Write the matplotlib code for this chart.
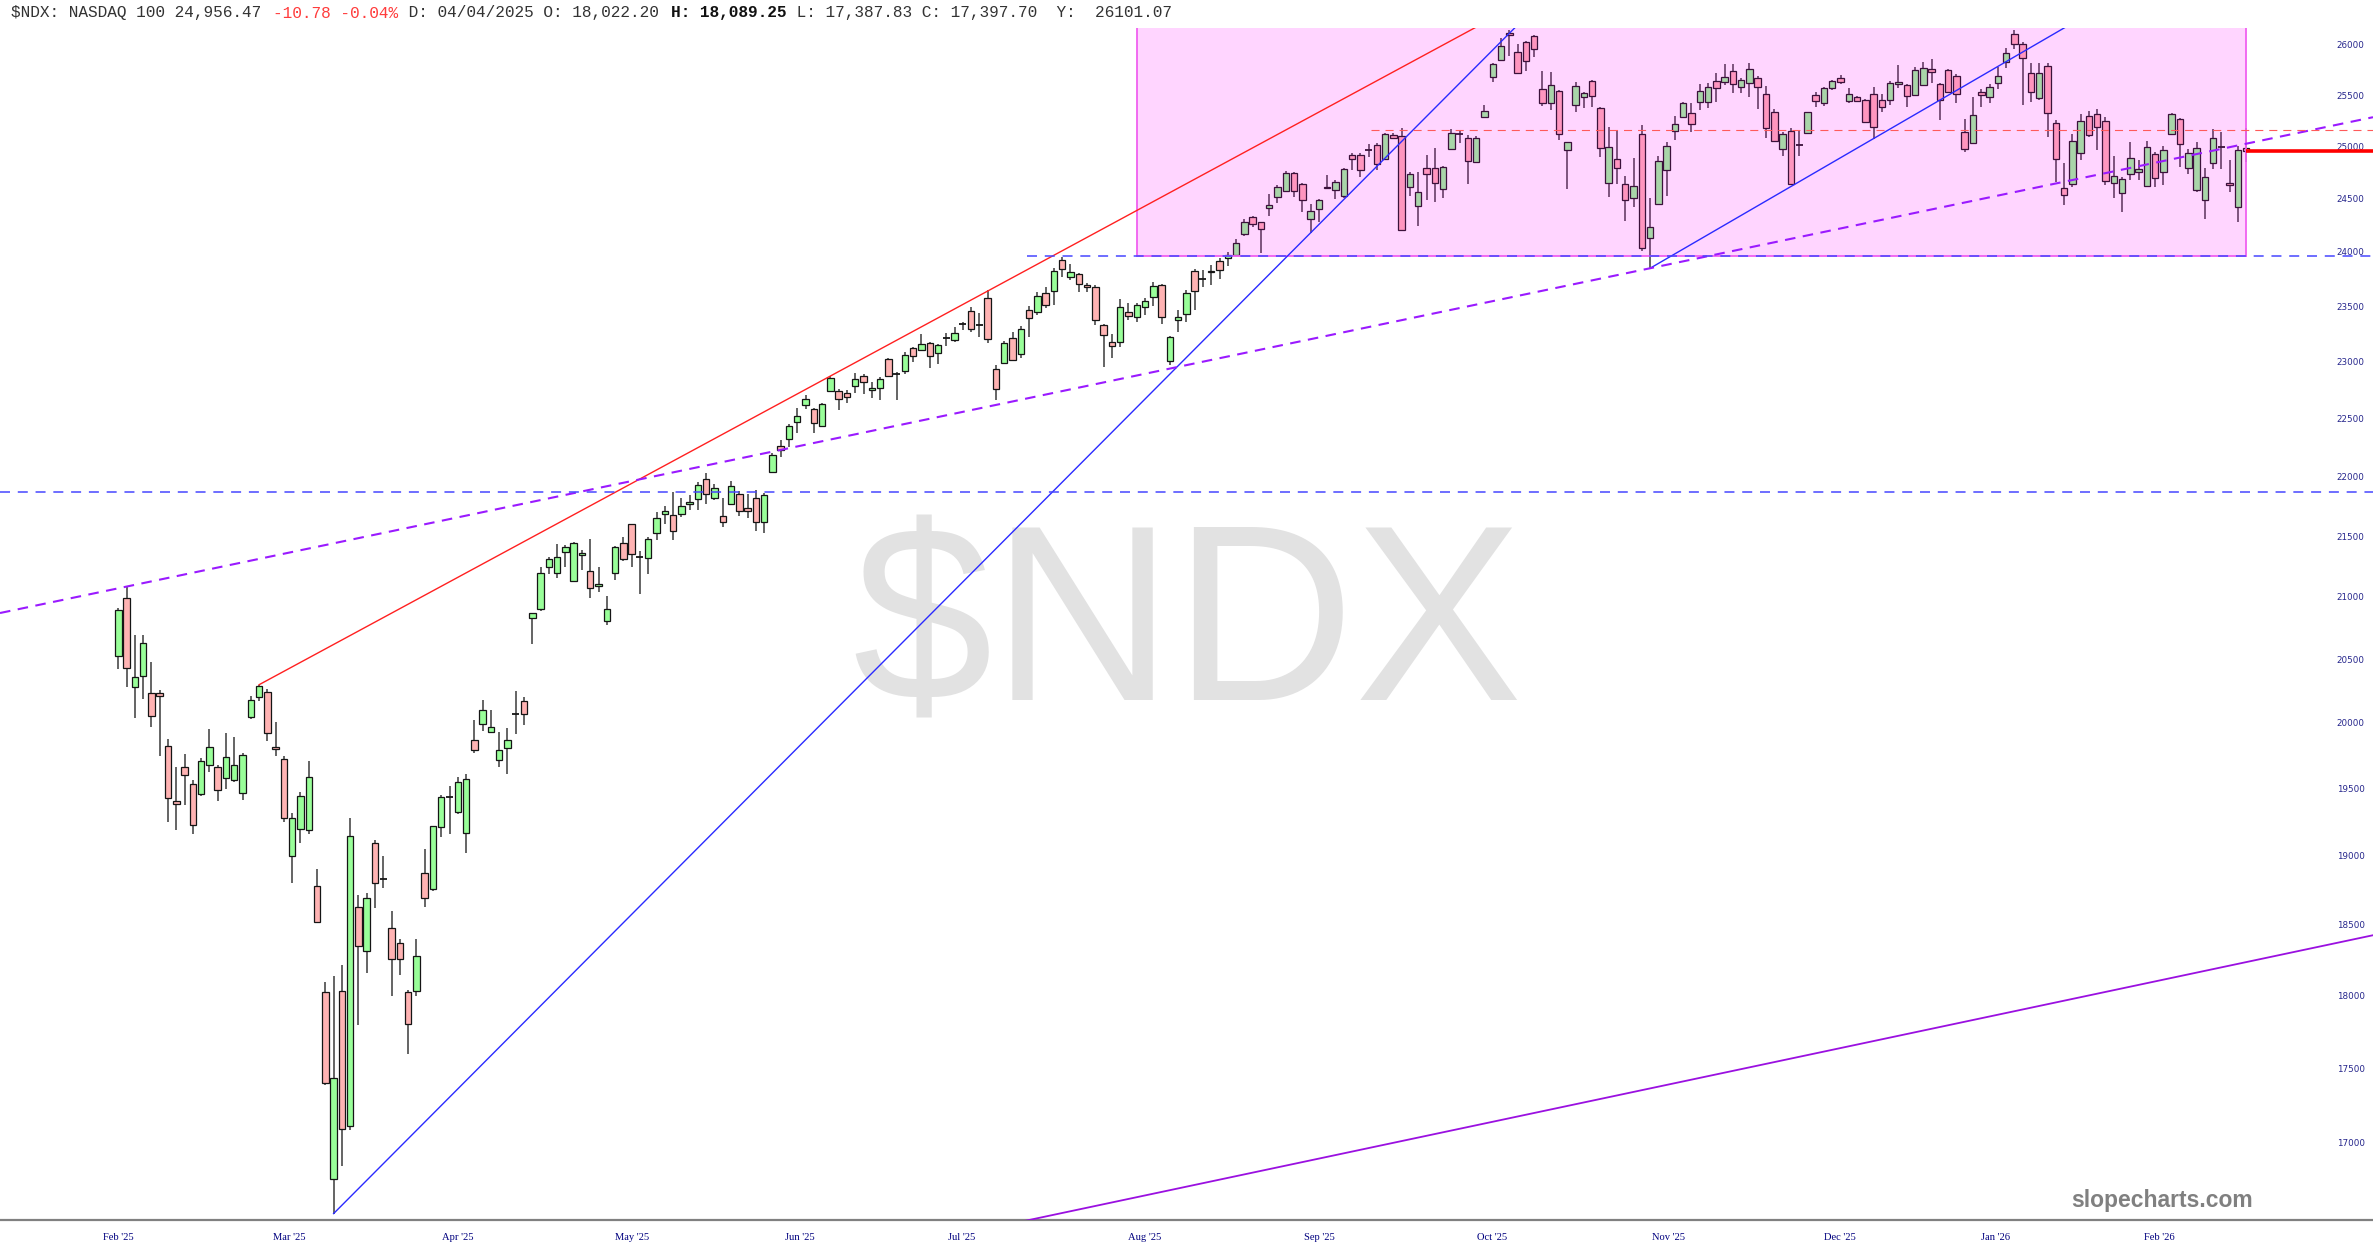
import numpy as np
import matplotlib
matplotlib.use("Agg")
import matplotlib.pyplot as plt
from matplotlib.patches import Rectangle
from matplotlib.ticker import NullLocator

# ---------------- data (daily candles, $NDX, 28 Feb 2025 onward) ----------------
opens = [
    20524, 20993, 20284, 20367, 20235, 20235, 19825, 19408, 19664, 19535,
    19455, 19674, 19664, 19577, 19561, 19468, 20043, 20201, 20241, 19815,
    19722, 19000, 19194, 19187, 18775, 18022.20, 16767, 18032, 17115, 18625,
    18311, 19093, 18830, 18473, 18367, 18022, 18032, 18871, 18753, 19209,
    19433, 19319, 19169, 19867, 19994, 19932, 19712, 19809, 20069, 20168,
    20829, 20900, 21246, 21198, 21366, 21128, 21340, 21209, 21086, 20801,
    21193, 21440, 21600, 21328, 21320, 21523, 21682, 21679, 21682, 21765,
    21808, 21983, 21820, 21665, 21771, 21851, 21736, 21822, 21618, 22040,
    22265, 22320, 22473, 22618, 22580, 22438, 22741, 22741, 22720, 22787,
    22876, 22750, 22765, 23022, 22890, 22917, 23118, 23109, 23168, 23082,
    23214, 23195, 23336, 23459, 23332, 23578, 22934, 22990, 23216, 23070,
    23465, 23444, 23617, 23639, 23924, 23765, 23796, 23695, 23672, 23330,
    23172, 23175, 23448, 23403, 23488, 23587, 23693, 23010, 23375, 23427,
    23823, 23747, 23811, 23918, 23945, 23970, 24163, 24329, 24273, 24408,
    24512, 24572, 24740, 24635, 24304, 24399, 24613, 24581, 24524, 24916,
    24916, 24961, 25012, 24874, 25110, 25100, 24613, 24430, 24788, 24794,
    24588, 24970, 25126, 25077, 24852, 25289, 25683, 25848, 26124, 25932,
    26033, 26093, 25561, 25419, 25544, 24964, 25403, 25485, 25643, 25370,
    24645, 24874, 24635, 24502, 25117, 24125, 24449, 24772, 25152, 25289,
    25321, 25436, 25429, 25640, 25633, 25739, 25577, 25616, 25666, 25512,
    25331, 24974, 25149, 25009, 25133, 25502, 25426, 25567, 25673, 25442,
    25485, 25452, 25512, 25452, 25452, 25607, 25600, 25502, 25600, 25759,
    25607, 25749, 25693, 25136, 25028, 25528, 25485, 25616, 25832, 26107,
    26009, 25723, 25475, 25792, 25223, 24597, 24639, 24938, 25295, 25315,
    25246, 24645, 24550, 24731, 24756, 24622, 24922, 24750, 25120, 25262,
    24794, 24581, 24486, 24836, 24993, 24651, 24418, 24987,
]
highs = [
    20907, 21078, 20690, 20690, 20477, 20258, 19874, 19664, 19760, 19561,
    19728, 19950, 19680, 19924, 19890, 19770, 20208, 20298, 20268, 20004,
    19744, 19313, 19472, 19706, 18901, 18089.25, 18137, 18210, 19276, 18714,
    18729, 19115, 19000, 18595, 18395, 18037, 18395, 19048, 19222, 19447,
    19520, 19586, 19608, 20020, 20178, 20098, 19929, 19961, 20250, 20201,
    20870, 21240, 21326, 21434, 21426, 21452, 21383, 21475, 21246, 21010,
    21417, 21492, 21603, 21374, 21489, 21699, 21748, 21872, 21820, 21843,
    21950, 22027, 21936, 21822, 21965, 21878, 21851, 21886, 21863, 22202,
    22314, 22452, 22589, 22706, 22589, 22633, 22873, 22756, 22750, 22896,
    22890, 22820, 22867, 23034, 22911, 23088, 23132, 23248, 23177, 23156,
    23254, 23307, 23358, 23496, 23434, 23650, 22970, 23186, 23266, 23316,
    23500, 23632, 23678, 23847, 23948, 23887, 23802, 23710, 23693, 23339,
    23250, 23564, 23530, 23525, 23570, 23721, 23702, 23232, 23461, 23647,
    23836, 23832, 23878, 23940, 24001, 24119, 24307, 24336, 24279, 24544,
    24629, 24766, 24756, 24645, 24449, 24496, 24724, 24676, 24788, 24938,
    24938, 25022, 25028, 25126, 25126, 25175, 24756, 24750, 24916, 24980,
    24813, 25165, 25158, 25110, 25103, 25403, 25822, 26066, 26151, 26009,
    26040, 26100, 25739, 25726, 25551, 25045, 25633, 25534, 25649, 25380,
    25185, 25149, 24715, 24890, 25207, 24502, 24906, 25045, 25295, 25429,
    25426, 25610, 25623, 25716, 25805, 25809, 25666, 25815, 25689, 25594,
    25360, 25142, 25175, 25149, 25338, 25534, 25584, 25649, 25699, 25574,
    25492, 25459, 25584, 25512, 25640, 25799, 25610, 25775, 25832, 25855,
    25616, 25755, 25709, 25266, 25478, 25561, 25607, 25775, 25966, 26151,
    26033, 25815, 25815, 25815, 25256, 24842, 25117, 25315, 25347, 25360,
    25289, 24906, 24702, 25038, 24868, 25055, 24948, 25003, 25321, 25279,
    24970, 25038, 24794, 25168, 25139, 24868, 25003, 25175,
]
lows = [
    20418, 20284, 20037, 20185, 19972, 19744, 19250, 19187, 19377, 19156,
    19440, 19625, 19403, 19496, 19551, 19414, 20030, 20168, 19858, 19744,
    19250, 18799, 19093, 19162, 18509, 17387.83, 16542, 16849, 17085, 17797,
    18156, 18616, 18760, 17997, 18144, 17595, 17997, 18625, 18744, 19134,
    19162, 19306, 19016, 19767, 19939, 19922, 19664, 19606, 19916, 19988,
    20619, 20885, 21190, 21156, 21240, 21123, 21218, 20994, 21036, 20771,
    21134, 21292, 21246, 21022, 21190, 21463, 21597, 21463, 21656, 21714,
    21714, 21765, 21799, 21577, 21757, 21670, 21647, 21546, 21526, 22034,
    22165, 22256, 22372, 22580, 22378, 22435, 22735, 22574, 22639, 22720,
    22711, 22682, 22665, 22867, 22662, 22890, 22999, 23103, 22940, 22984,
    23141, 23180, 23284, 23270, 23218, 23170, 22662, 22978, 23005, 23031,
    23220, 23420, 23480, 23511, 23771, 23741, 23632, 23626, 23330, 22951,
    23031, 23130, 23375, 23360, 23418, 23503, 23339, 22970, 23270, 23360,
    23461, 23678, 23690, 23750, 23868, 23961, 24147, 24229, 23986, 24336,
    24455, 24565, 24518, 24370, 24173, 24282, 24591, 24493, 24502, 24772,
    24702, 24900, 24772, 24868, 25071, 24198, 24524, 24241, 24486, 24470,
    24502, 24964, 25028, 24635, 24842, 25272, 25633, 25842, 25889, 25710,
    25743, 25875, 25396, 25354, 25061, 24588, 25338, 25370, 25380, 24893,
    24518, 24639, 24283, 24415, 24008, 23847, 24439, 24527, 25061, 25283,
    25142, 25354, 25370, 25436, 25600, 25518, 25518, 25485, 25360, 25084,
    25045, 24910, 24629, 24906, 25120, 25383, 25393, 25551, 25610, 25426,
    25436, 25223, 25071, 25338, 25403, 25574, 25383, 25492, 25590, 25623,
    25256, 25518, 25426, 24942, 25022, 25383, 25419, 25561, 25772, 25955,
    25403, 25436, 25452, 25094, 24661, 24439, 24607, 24868, 25094, 24964,
    24629, 24502, 24370, 24677, 24677, 24613, 24607, 24629, 25110, 24804,
    24734, 24565, 24304, 24778, 24778, 24565, 24276, 24852,
]
closes = [
    20890, 20427, 20357, 20632, 20053, 20211, 19430, 19383, 19599, 19228,
    19706, 19813, 19487, 19735, 19677, 19757, 20182, 20291, 19923, 19799,
    19281, 19281, 19440, 19583, 18521, 17397.70, 17430, 17092, 19146, 18344,
    18692, 18800, 18825, 18254, 18254, 17804, 18278, 18692, 19219, 19433,
    19440, 19545, 19570, 19793, 20102, 19968, 19793, 19867, 20072, 20069,
    20870, 21195, 21309, 21323, 21411, 21440, 21360, 21072, 21106, 20904,
    21405, 21306, 21355, 21330, 21477, 21650, 21711, 21540, 21751, 21785,
    21930, 21851, 21901, 21621, 21924, 21708, 21708, 21618, 21848, 22181,
    22228, 22435, 22522, 22668, 22464, 22627, 22852, 22673, 22691, 22849,
    22820, 22765, 22843, 22873, 22884, 23064, 23049, 23162, 23049, 23147,
    23216, 23257, 23340, 23294, 23330, 23200, 22755, 23168, 23019, 23296,
    23390, 23596, 23511, 23825, 23838, 23817, 23704, 23678, 23375, 23241,
    23136, 23488, 23409, 23510, 23549, 23687, 23400, 23220, 23400, 23623,
    23638, 23750, 23826, 23832, 23970, 24078, 24282, 24260, 24210, 24440,
    24613, 24747, 24572, 24486, 24383, 24486, 24597, 24660, 24782, 24874,
    24772, 24964, 24826, 25120, 25077, 24204, 24734, 24565, 24734, 24645,
    24804, 25126, 25120, 24861, 25077, 25344, 25805, 25992, 26100, 25716,
    25842, 25955, 25419, 25600, 25117, 25038, 25594, 25518, 25495, 24980,
    24990, 24788, 24486, 24622, 24038, 24226, 24858, 25003, 25217, 25419,
    25217, 25541, 25584, 25567, 25676, 25610, 25649, 25755, 25577, 25181,
    25052, 25117, 24635, 25006, 25331, 25442, 25567, 25640, 25626, 25508,
    25446, 25233, 25191, 25380, 25623, 25633, 25492, 25749, 25766, 25726,
    25452, 25528, 25512, 24974, 25305, 25502, 25584, 25693, 25922, 26006,
    25865, 25534, 25723, 25321, 24874, 24534, 25055, 25249, 25110, 25185,
    24670, 24718, 24683, 24884, 24782, 24996, 24692, 24964, 25311, 25022,
    24938, 24980, 24702, 25077, 25000, 24629, 24967.25, 24956.47,
]

month_labels = ["Feb '25", "Mar '25", "Apr '25", "May '25", "Jun '25", "Jul '25",
                "Aug '25", "Sep '25", "Oct '25", "Nov '25", "Dec '25", "Jan '26", "Feb '26"]
month_pos = [1.04, 21.6, 41.97, 63.04, 83.33, 102.9, 124.95, 146.0, 166.9, 188.2,
             208.9, 227.7, 247.5]          # candle-index position of each label
y_ticks = list(range(17000, 26001, 500))

# drawn studies: anchor points as (candle index, price)
red_trend = [(18, 20298), (87, 22873)]
blue_trend_1 = [(27, 16542), (152.77, 24788)]
blue_trend_2 = [(186, 23847), (228.3, 25798)]
purple_dash_trend = [(-13.29, 20869), (186, 23847)]
purple_solid_trend = [(111.0, 16501), (273.31, 18423)]
support_low = 21870
support_high = 23960
support_high_start = 110.7
resist_level = 25160
resist_start = 152.3
box_start, box_end, box_floor = 124, 258, 23960
detail_candle = 26                       # 04/04/2025 shown in the header
detail_date = "04/04/2025"
cursor_y = 26101.07

# ---------------- figure ----------------
W, H, DPI = 2373, 1260, 100
plt.rcParams['lines.scale_dashes'] = False
fig = plt.figure(figsize=(W / DPI, H / DPI), dpi=DPI)
fig.patch.set_facecolor('white')
ax_bot_px, ax_top_px = 1220, 28
ax = fig.add_axes([0, (H - ax_bot_px) / H, 1, (ax_bot_px - ax_top_px) / H])
ax.set_facecolor('white')

o = np.array(opens, float)
h = np.array(highs, float)
l = np.array(lows, float)
c = np.array(closes, float)
n = len(c)
idx = np.arange(1, n + 1)
h = np.maximum(h, np.maximum(o, c))
l = np.minimum(l, np.minimum(o, c))

x_left, x_right = -13.29, 273.31
y_bot, y_top = 16501, 26170
ax.set_yscale('log')
ax.set_xlim(x_left, x_right)
ax.set_ylim(y_bot, y_top)

# watermark
ax.text(0.5006, (ax_bot_px - 700.5) / (ax_bot_px - ax_top_px), "$NDX", transform=ax.transAxes,
        ha='center', va='baseline', fontsize=181, color='#e2e2e2',
        family=['Liberation Sans', 'DejaVu Sans'], zorder=0.5, parse_math=False)

# candles
body_lo = np.minimum(o, c)
body_hi = np.maximum(o, c)
doji = (body_hi - body_lo) / body_lo < 0.0004
up = c >= o
ax.vlines(idx, l, h, color='#3a3a3a', lw=1.1, zorder=2)
nd = ~doji
cols = np.where(up, '#99ff99', '#ffb3b3')
ax.bar(idx[nd], (body_hi - body_lo)[nd], bottom=body_lo[nd], width=0.78,
       color=cols[nd], edgecolor='#151515', linewidth=0.9, zorder=2.5)
ax.hlines((o[doji] + c[doji]) / 2, idx[doji] - 0.42, idx[doji] + 0.42,
          color='#151515', lw=1.3, zorder=2.6)

# pink zone (translucent overlay)
ax.add_patch(Rectangle((box_start, box_floor), box_end - box_start, 40000 - box_floor,
                       facecolor='#ff00ff', alpha=0.165, edgecolor='none', zorder=3))
edge_kw = dict(color='#f060f0', lw=1.3, zorder=3.5)
ax.plot([box_start, box_start], [box_floor, 40000], **edge_kw)
ax.plot([box_end, box_end], [box_floor, 40000], **edge_kw)
ax.plot([box_start, box_end], [box_floor, box_floor], **edge_kw)


def log_line(p1, p2, x0, x1):
    (xa, ya), (xb, yb) = p1, p2
    k = (np.log(yb) - np.log(ya)) / (xb - xa)
    xs = np.array([x0, x1], float)
    return xs, np.exp(np.log(ya) + k * (xs - xa))


xs, ys = log_line(*red_trend, red_trend[0][0], 200)
ax.plot(xs, ys, color='#ff2020', lw=1.0, zorder=4)
xs, ys = log_line(*blue_trend_1, blue_trend_1[0][0], 200)
ax.plot(xs, ys, color='#2a2aff', lw=1.0, zorder=4)
xs, ys = log_line(*blue_trend_2, blue_trend_2[0][0], 262)
ax.plot(xs, ys, color='#2a2aff', lw=1.0, zorder=4)
xs, ys = log_line(*purple_dash_trend, x_left, x_right)
ax.plot(xs, ys, color='#9a1aff', lw=1.5, dashes=(7.6, 5.4), zorder=4)
xs, ys = log_line(*purple_solid_trend, 90, x_right)
ax.plot(xs, ys, color='#9a10e0', lw=1.3, zorder=4)

ax.plot([x_left, x_right], [support_low, support_low], color='#4646ff', lw=1.1,
        dashes=(7.2, 5.6), zorder=4)
ax.plot([support_high_start, x_right], [support_high, support_high], color='#4646ff',
        lw=1.1, dashes=(7.2, 5.6), zorder=4)
ax.plot([resist_start, x_right], [resist_level, resist_level], color='#ff5a5a', lw=0.8,
        dashes=(5.8, 4.3), zorder=4)
ax.plot([n, x_right], [c[-1], c[-1]], color='#ff0000', lw=2.6, solid_capstyle='butt',
        zorder=5)

# axes styling
for s in ('top', 'left', 'right'):
    ax.spines[s].set_visible(False)
ax.spines['bottom'].set_color('#808080')
ax.spines['bottom'].set_linewidth(1.6)

ax.yaxis.tick_right()
ax.set_yticks(y_ticks)
ax.set_yticklabels([str(t) for t in y_ticks])
ax.yaxis.set_minor_locator(NullLocator())
ax.tick_params(axis='y', which='both', length=0, pad=-26, labelsize=6.3,
               labelcolor='#26268c')
for lab in ax.get_yticklabels():
    lab.set_fontfamily(['DejaVu Sans'])

ax.set_xticks(month_pos)
ax.set_xticklabels(month_labels)
ax.xaxis.set_minor_locator(NullLocator())
ax.tick_params(axis='x', which='both', length=0, pad=9, labelsize=7.6,
               labelcolor='#00007f')
for lab in ax.get_xticklabels():
    lab.set_fontfamily(['Liberation Serif', 'DejaVu Serif'])

# header
k = detail_candle - 1
chg = c[-1] - c[-2]
pct = chg / c[-2] * 100
hdr_fs = 11.64
char_w = 0.6 * hdr_fs * DPI / 72
hdr_x0, hdr_base = 11, 17.5
segments = [
    (f"$NDX: NASDAQ 100 {c[-1]:,.2f} ", '#333333', 'normal'),
    (f"{chg:.2f} {pct:.2f}%", '#ff3c3c', 'normal'),
    (f" D: {detail_date} O: {o[k]:,.2f} ", '#333333', 'normal'),
    (f"H: {h[k]:,.2f}", '#111111', 'bold'),
    (f" L: {l[k]:,.2f} C: {c[k]:,.2f}  Y:  {cursor_y:.2f}", '#333333', 'normal'),
]
pos = 0
for s, col, wt in segments:
    fig.text((hdr_x0 + pos * char_w) / W, 1 - hdr_base / H, s, color=col, fontweight=wt,
             family=['Liberation Mono', 'DejaVu Sans Mono'], fontsize=hdr_fs,
             va='baseline', ha='left', parse_math=False)
    pos += len(s)

fig.text(2253 / W, 1 - 1207 / H, "slopecharts.com", ha='right', va='baseline',
         fontsize=16.5, fontweight='bold', color='#808080',
         family=['Liberation Sans', 'DejaVu Sans'])

fig.savefig("out.png", dpi=DPI, facecolor='white')
